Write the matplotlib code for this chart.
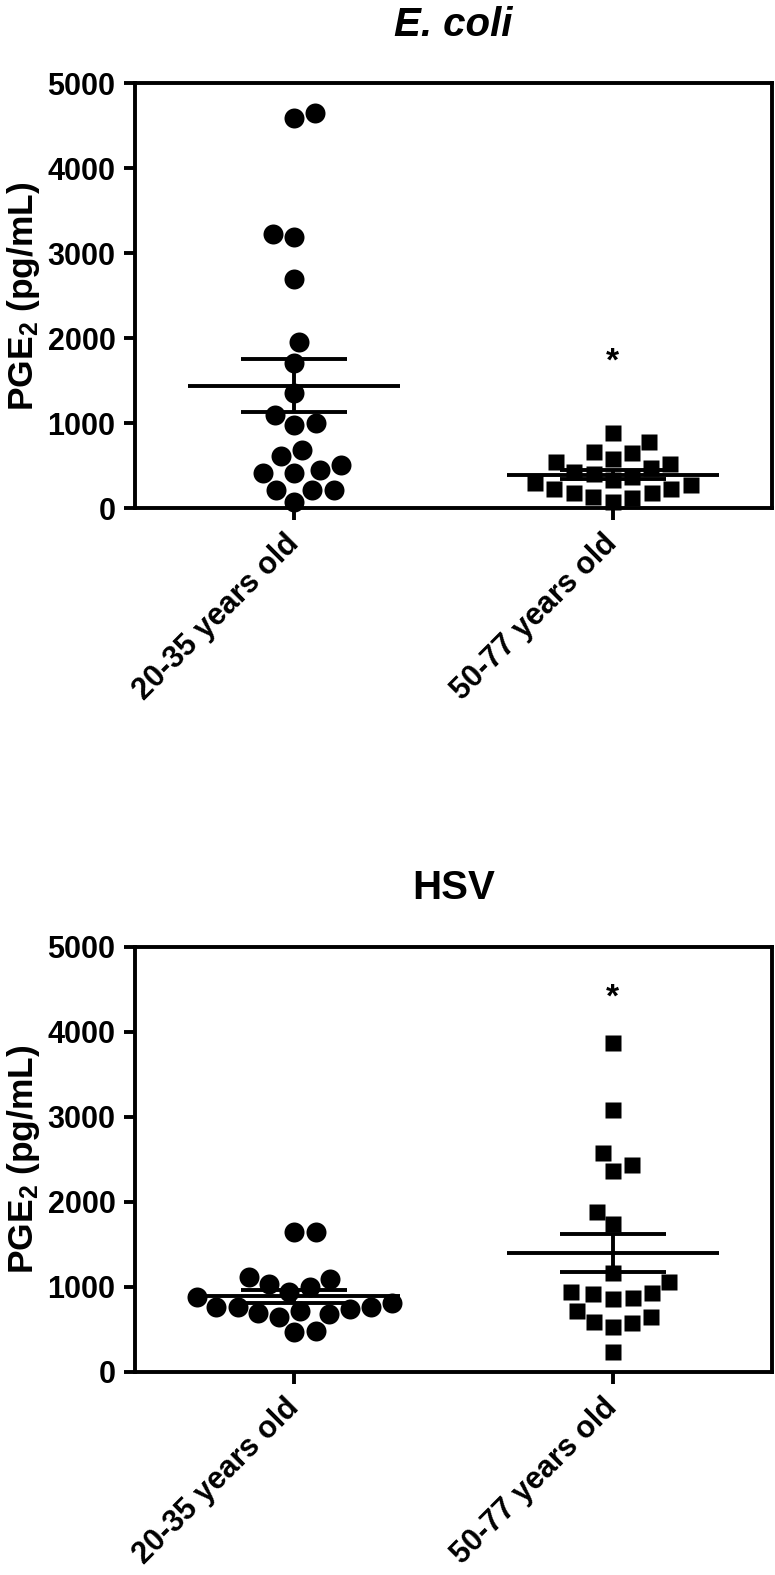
import numpy as np
import matplotlib
matplotlib.use("Agg")
import matplotlib.pyplot as plt

# ------------------------------------------------------------ data (pg/mL)
groups = ["20-35 years old", "50-77 years old"]
ecoli_young = [4652, 4586, 3222, 3187, 2693, 1959, 1712, 1352, 1097, 1000, 980,
               686, 615, 509, 451, 412, 412, 215, 215, 215, 78]
ecoli_old = [882, 776, 662, 654, 580, 548, 517, 470, 431, 400, 372, 333, 294,
             274, 223, 223, 183, 183, 137, 117, 78]
hsv_young = [1647, 1647, 1117, 1090, 1031, 1000, 934, 880, 804, 757,
             757, 757, 734, 717, 687, 679, 647, 479, 463]
hsv_old = [3869, 3078, 2568, 2431, 2364, 1882, 1737, 1164, 1058, 941, 922, 910,
           870, 851, 717, 647, 588, 569, 522, 235]
yticks = [0, 1000, 2000, 3000, 4000, 5000]

plt.rcParams["font.family"] = ["Liberation Sans", "DejaVu Sans"]
plt.rcParams["font.weight"] = "bold"
plt.rcParams["mathtext.fontset"] = "custom"
plt.rcParams["mathtext.rm"] = "Liberation Sans"
plt.rcParams["mathtext.default"] = "regular"

LW = 2.8


def swarm(vals, d_px, sx, sy):
    """compact beeswarm: x offsets (data units) so markers don't overlap"""
    vals = np.asarray(vals, float)
    placed, offs, flip = [], np.zeros(len(vals)), 1
    for i in np.argsort(vals, kind="stable"):
        y = vals[i] * sy
        near = [(px, py) for px, py in placed if abs(py - y) < d_px]
        cands = [0.0]
        for px, py in near:
            dx = np.sqrt(d_px ** 2 - (py - y) ** 2)
            cands += [px + dx, px - dx]
        ok = [c for c in cands
              if all((c - px) ** 2 + (y - py) ** 2 >= d_px ** 2 - 1e-6 for px, py in near)]
        best = min(ok, key=lambda c: (round(abs(c), 2), -flip * c))
        if best != 0:
            flip = -flip
        placed.append((best, y))
        offs[i] = best / sx
    return offs


def panel(ax, title, young, old, star_y, italic=False):
    ax.set_xlim(-0.5, 1.5)
    ax.set_ylim(0, 5000)
    sx = ax.bbox.width / 2.0
    sy = ax.bbox.height / 5000.0
    for k, (vals, mk, ms, d) in enumerate([(young, "o", 14.4, 21.5), (old, "s", 12.2, 20)]):
        off = swarm(vals, d, sx, sy)
        ax.plot(k + off, vals, ls="none", marker=mk, ms=ms, color="black",
                mec="none", zorder=3, clip_on=False)
        m = np.mean(vals)
        sem = np.std(vals, ddof=1) / np.sqrt(len(vals))
        kw = dict(color="black", lw=LW, zorder=4, solid_capstyle="butt")
        ax.plot([k - 0.333, k + 0.333], [m, m], **kw)
        ax.plot([k - 0.167, k + 0.167], [m + sem, m + sem], **kw)
        ax.plot([k - 0.167, k + 0.167], [m - sem, m - sem], **kw)
        ax.plot([k, k], [m - sem, m + sem], **kw)
    ax.text(1, star_y, "*", ha="center", va="center", fontsize=24, fontweight="bold")
    ax.set_xticks([0, 1])
    ax.set_xticklabels(groups, rotation=45, ha="right", va="center",
                       rotation_mode="anchor", fontsize=22, fontweight="bold")
    ax.set_yticks(yticks)
    ax.set_yticklabels([str(t) for t in yticks], fontsize=22, fontweight="bold")
    ax.tick_params(axis="y", length=8, width=LW, pad=6)
    ax.tick_params(axis="x", length=8.5, width=LW, pad=14)
    for s in ax.spines.values():
        s.set_linewidth(LW)
    ax.set_ylabel("PGE$_2$ (pg/mL)", fontsize=25.5, fontweight="bold", labelpad=4)
    ax.set_title(title, fontsize=29, fontweight="bold",
                 fontstyle="italic" if italic else "normal", pad=34)


fig = plt.figure(figsize=(7.75, 15.75), dpi=100)
ax1 = fig.add_axes([135 / 775, 1 - 508.3 / 1575, 637 / 775, 425 / 1575])
ax2 = fig.add_axes([135 / 775, 1 - 1371.7 / 1575, 637 / 775, 425 / 1575])
panel(ax1, "E. coli", ecoli_young, ecoli_old, 1720, italic=True)
panel(ax2, "HSV", hsv_young, hsv_old, 4400)
fig.savefig("out.png", dpi=100)
